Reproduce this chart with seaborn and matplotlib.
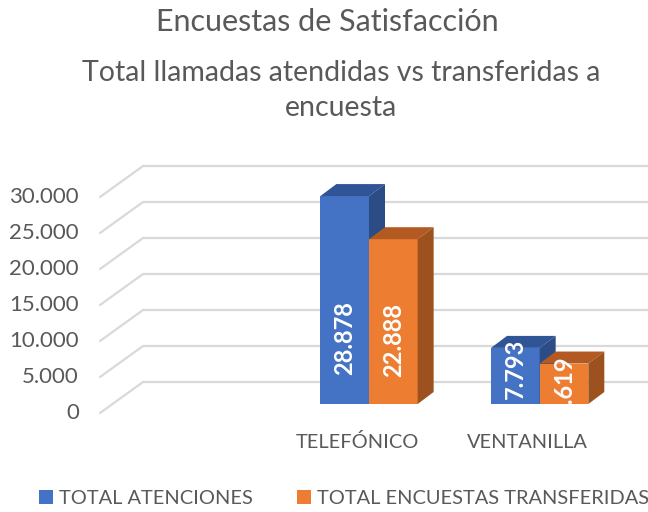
import numpy as np
import pandas as pd
import matplotlib
matplotlib.use("Agg")
import matplotlib.pyplot as plt
from matplotlib.patches import Polygon, Patch
from matplotlib import transforms as mtransforms
import seaborn as sns

# Data
categories = ["", "TELEFÓNICO", "VENTANILLA"]
series = ["TOTAL ATENCIONES", "TOTAL ENCUESTAS TRANSFERIDAS"]
total_atenciones = [np.nan, 28878, 7793]
total_transferidas = [np.nan, 22888, 5619]
y_ticks = [0, 5000, 10000, 15000, 20000, 25000, 30000]

# label centre heights (same units as the values) as they sit in the picture
label_pos_atenciones = [np.nan, 9200, 4900]
label_pos_transferidas = [np.nan, 8900, 2600]

front_colors = ["#4472C4", "#ED7D31"]
top_colors = ["#2F5597", "#B35A22"]
side_colors = ["#2C4C86", "#9C511E"]
grid_color = "#D9D9D9"
text_color = "#595959"

sns.set_theme(style="white")
plt.rcParams["font.family"] = ["Lato", "DejaVu Sans"]

df = pd.DataFrame({
    "cat": categories * 2,
    "serie": [series[0]] * 3 + [series[1]] * 3,
    "valor": total_atenciones + total_transferidas,
})

W, H = 648, 512
fig = plt.figure(figsize=(W / 100, H / 100), dpi=100)
# axes = the front plane of the bars (pixels)
ax_left, ax_right, ax_top, ax_bottom = 113, 625, 188, 404
ax = fig.add_axes([ax_left / W, 1 - ax_bottom / H, (ax_right - ax_left) / W, (ax_bottom - ax_top) / H])

sns.barplot(data=df, x="cat", y="valor", hue="serie", order=categories, hue_order=series,
            palette=front_colors, width=0.57, saturation=1, ax=ax, legend=False,
            edgecolor="none", linewidth=0)
ax.set_xlim(-0.5, 2.5)
ax.set_ylim(0, 30000)
ax.axis("off")

px_x = 3.0 / (ax_right - ax_left)        # data units per pixel
px_y = 30000.0 / (ax_bottom - ax_top)

# back wall gridlines with the diagonal on the left side wall
tick_tr = (mtransforms.blended_transform_factory(fig.transFigure, ax.transData)
           + mtransforms.ScaledTranslation(0, -9 / 100, fig.dpi_scale_trans))
for v in y_ticks:
    x0 = -0.5 - 13 * px_x
    y0 = v - 9 * px_y
    x1 = -0.5 + 30 * px_x
    y1 = v + 22 * px_y
    ax.plot([x0, x1, 2.5 + 60 * px_x], [y0, y1, y1], color=grid_color, lw=1.6,
            zorder=0, clip_on=False, solid_joinstyle="miter")
    ax.text(79 / W, v, f"{v:,}".replace(",", "."), ha="right", va="center",
            fontsize=16, color=text_color, transform=tick_tr)

# 3D depth of bars
dx = 16 * px_x
dy = 12 * px_y
bars = [p for p in ax.patches if p.get_height() > 0]
bars.sort(key=lambda p: p.get_x())
label_pos = {}
for i in range(1, len(categories)):
    label_pos[(categories[i], 0)] = (total_atenciones[i], label_pos_atenciones[i])
    label_pos[(categories[i], 1)] = (total_transferidas[i], label_pos_transferidas[i])

for k, p in enumerate(bars):
    s = k % 2
    x, w, h = p.get_x(), p.get_width(), p.get_height()
    z = 2 + k * 2
    p.set_zorder(z)
    top = Polygon([(x, h), (x + dx, h + dy), (x + w + dx, h + dy), (x + w, h)],
                  closed=True, fc=top_colors[s], ec="none", zorder=z + 1, clip_on=False)
    side = Polygon([(x + w, 0), (x + w + dx, dy), (x + w + dx, h + dy), (x + w, h)],
                   closed=True, fc=side_colors[s], ec="none", zorder=z + 1, clip_on=False)
    ax.add_patch(top)
    ax.add_patch(side)
    cat = categories[1 + k // 2]
    val, ypos = label_pos[(cat, s)]
    t = ax.text(x + w / 2, ypos, f"{int(val):,}".replace(",", "."), rotation=90,
                ha="center", va="center", color="white", fontsize=17, fontweight="bold",
                zorder=z + 1)
    t.set_clip_path(p)

# category labels, on the front edge of the floor
for i, c in enumerate(categories):
    if c:
        ax.text(i, 0, c, ha="center", va="center", fontsize=14.4, color=text_color,
                transform=ax.transData + mtransforms.ScaledTranslation(-12 / 100, -38 / 100, fig.dpi_scale_trans))

fig.text(327 / W, 1 - 22 / H, "Encuestas de Satisfacción", ha="center", va="center",
         fontsize=22, color=text_color)
fig.text(341 / W, 1 - 73 / H, "Total llamadas atendidas vs transferidas a", ha="center",
         va="center", fontsize=20.5, color=text_color)
fig.text(341 / W, 1 - 108 / H, "encuesta", ha="center", va="center", fontsize=20.5, color=text_color)

handles = [Patch(fc=c, ec="none") for c in front_colors]
fig.legend(handles, series, loc="center", bbox_to_anchor=(344 / W, 1 - 498 / H), ncol=2,
           frameon=False, fontsize=14.4, handlelength=0.7, handleheight=0.7, handletextpad=0.3,
           columnspacing=2.2, labelcolor=text_color)

fig.savefig("out.png", dpi=100)
